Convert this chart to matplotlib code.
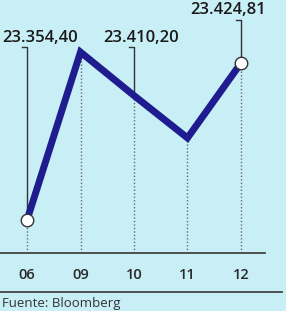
import matplotlib
matplotlib.use("Agg")
import matplotlib.pyplot as plt
from matplotlib.lines import Line2D

dates = ["06", "09", "10", "11", "12"]
values = [23354.40, 23429.70, 23410.20, 23391.20, 23424.81]
# labelled points: index, text, label height (value), leader top (value)
label_idx = [0, 2, 4]
label_txt = ["23.354,40", "23.410,20", "23.424,81"]
label_y = [23436.0, 23436.0, 23448.6]
leader_top = [23432.0, 23432.0, 23444.1]
label_dx = [0.24, 0.13, -0.24]

bg = "#c8eef6"
blue = "#1e1c8e"

fig = plt.figure(figsize=(2.86, 3.11), dpi=100, facecolor=bg)
ax = fig.add_axes([0, 58 / 311, 265 / 286, 253 / 311])
ax.set_facecolor(bg)
x = list(range(len(dates)))

# dotted drop lines
for xi, v in zip(x, values):
    ax.plot([xi, xi], [23339.6, v], color="#6a6a6a", lw=1, ls=(0, (1, 1.5)), zorder=1)

# leader lines from labels
for i, txt, ly, lt, dx in zip(label_idx, label_txt, label_y, leader_top, label_dx):
    ax.plot([i - 0.09, i, i], [lt, lt, values[i]], color="#333333", lw=1, zorder=2)
    ax.text(i + dx, ly, txt, ha="center", va="center", fontsize=12,
            color="#1a1a1a", weight="semibold", family=["Open Sans", "DejaVu Sans"],
            clip_on=False)

ax.plot(x, values, color=blue, lw=5, solid_joinstyle="miter", zorder=3)
ax.plot([x[0], x[-1]], [values[0], values[-1]], ls="none", marker="o", ms=9,
        mfc="white", mec="#333333", mew=1, zorder=4)

ax.set_xlim(-0.505, 4.449)
ax.set_ylim(23339.6, 23453.06)
ax.set_xticks(x)
ax.set_xticklabels(dates, family=["Open Sans", "DejaVu Sans"], fontstretch="condensed",
                   fontsize=10.5, weight="semibold", color="#2a2a2a")
ax.tick_params(axis="x", length=0, pad=11)
ax.set_yticks([])
for s in ["top", "left", "right"]:
    ax.spines[s].set_visible(False)
ax.spines["bottom"].set_color("#444444")
ax.spines["bottom"].set_linewidth(1.3)

fig.add_artist(Line2D([0, 282 / 286], [1 - 292 / 311] * 2, color="#444444", lw=1.3))
fig.text(2 / 286, 1 - 304 / 311, "Fuente: Bloomberg", fontsize=9.5, color="#333333",
         va="center", ha="left", family=["Open Sans", "DejaVu Sans"])

fig.savefig("out.png", dpi=100, facecolor=bg)
